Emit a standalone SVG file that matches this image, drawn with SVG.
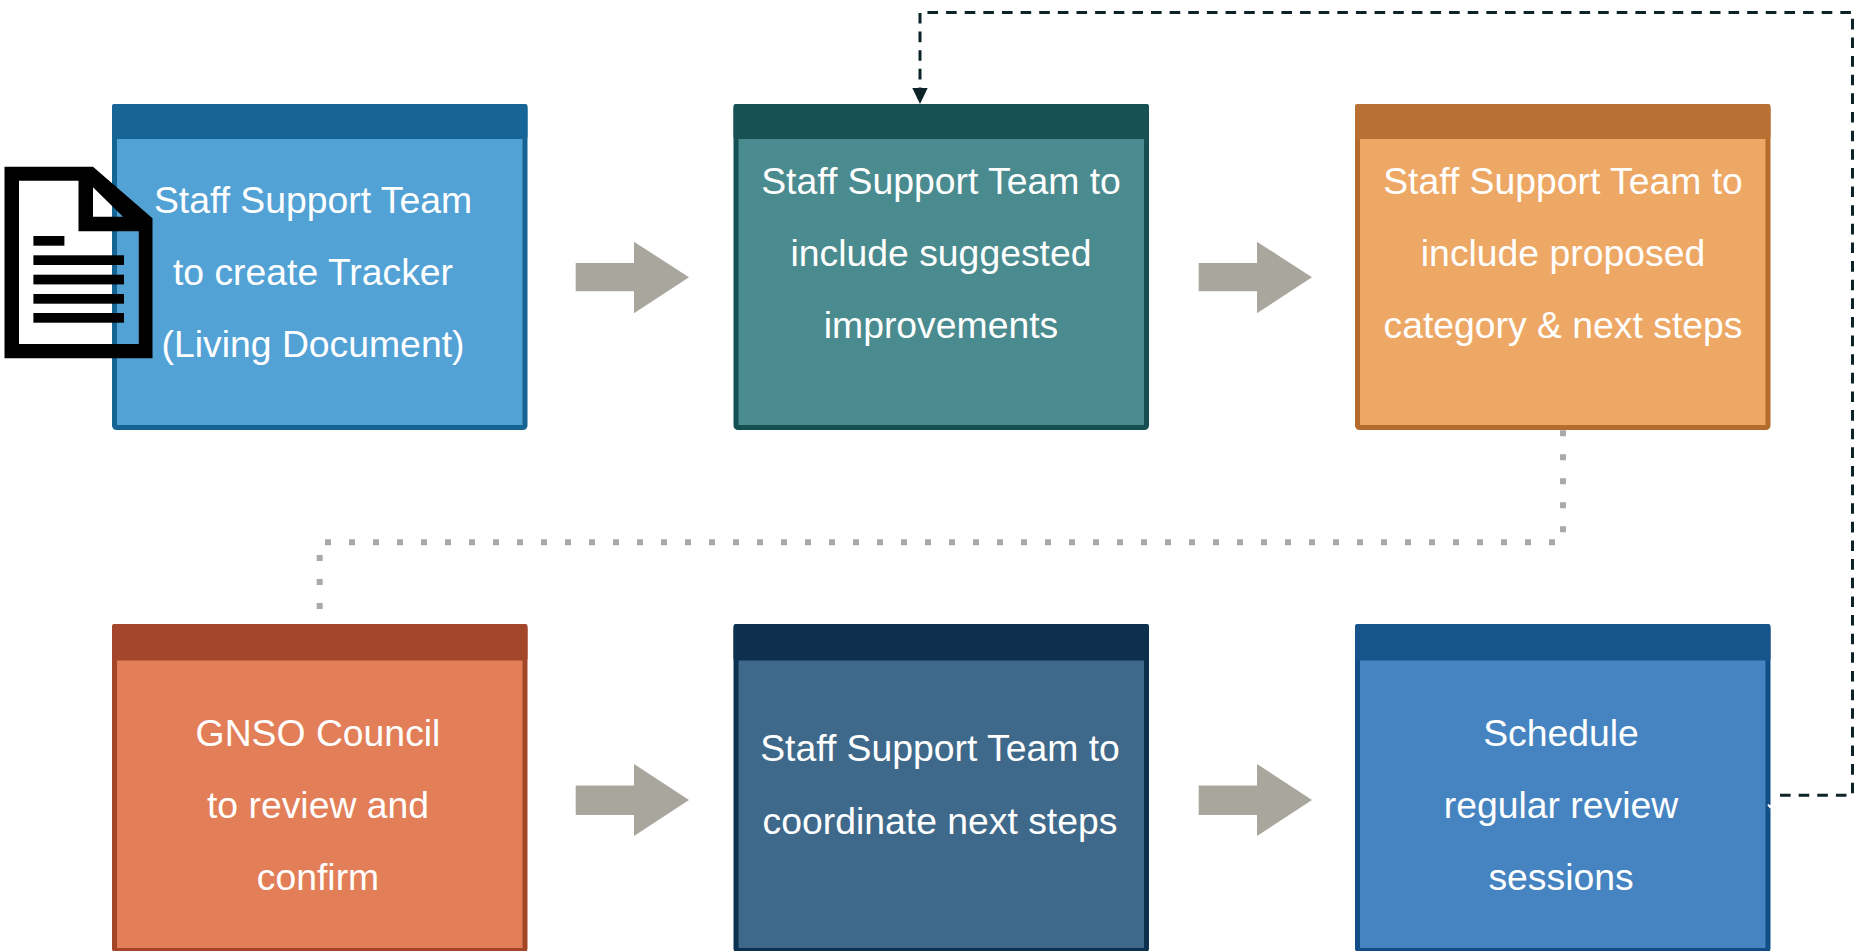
<svg xmlns="http://www.w3.org/2000/svg" width="1863" height="951" viewBox="0 0 1863 951">
<style>
text{font-family:"Liberation Sans",Arial,sans-serif;font-size:37.33px;fill:#fff;text-anchor:middle}
.b{stroke-width:5}
.r{fill:#a9a79d}
</style>
<defs>
<marker id="h" markerUnits="userSpaceOnUse" markerWidth="16" markerHeight="16" refX="16" refY="8" orient="auto"><path d="M0 0.300L16 8L0 15.700Z" fill="#0c2428"/></marker>
</defs>
<rect width="1863" height="951" fill="#fff"/>
<g id="n1"><rect class="b" x="114.500" y="106.500" width="410.500" height="321" fill="#52a2d6" stroke="#156494" rx="2"/><rect x="112" y="104" width="415.500" height="35" fill="#176496" rx="2"/>
<text x="313" y="212.500">Staff Support Team</text><text x="313" y="285">to create Tracker</text><text x="313" y="357">(Living Document)</text></g>
<g id="n2"><rect class="b" x="736" y="106.500" width="410.500" height="321" fill="#4a8b8f" stroke="#154f52" rx="2"/><rect x="733.500" y="104" width="415.500" height="35" fill="#175154" rx="2"/>
<text x="941" y="194">Staff Support Team to</text><text x="941" y="266">include suggested</text><text x="941" y="338">improvements</text></g>
<g id="n3"><rect class="b" x="1357.500" y="106.500" width="410.500" height="321" fill="#eda865" stroke="#b56b2c" rx="2"/><rect x="1355" y="104" width="415.500" height="35" fill="#b97033" rx="2"/>
<text x="1563" y="194">Staff Support Team to</text><text x="1563" y="266">include proposed</text><text x="1563" y="338">category &amp; next steps</text></g>
<g id="n4"><rect class="b" x="114.500" y="626.500" width="410.500" height="324" fill="#e27e58" stroke="#a34527" rx="2"/><rect x="112" y="624" width="415.500" height="36.500" fill="#a3462a" rx="2"/>
<text x="318" y="746">GNSO Council</text><text x="318" y="818">to review and</text><text x="318" y="890">confirm</text></g>
<g id="n5"><rect class="b" x="736" y="626.500" width="410.500" height="324" fill="#3f698b" stroke="#0c304e" rx="2"/><rect x="733.500" y="624" width="415.500" height="36.500" fill="#0d304e" rx="2"/>
<text x="940" y="761">Staff Support Team to</text><text x="940" y="834">coordinate next steps</text></g>
<g id="n6"><rect class="b" x="1357.500" y="626.500" width="410.500" height="324" fill="#4584c1" stroke="#124d85" rx="2"/><rect x="1355" y="624" width="415.500" height="36.500" fill="#17548b" rx="2"/>
<text x="1561" y="746">Schedule</text><text x="1561" y="818">regular review</text><text x="1561" y="890">sessions</text></g>
<g id="doc">
<path fill-rule="evenodd" d="M4.500 166.700H93L152.500 218.300V358.300H4.500ZM19 180.700V344H138.800V231.300H78.500V180.700ZM93 187.300V216.700H123Z" fill="#000"/>
<rect x="33.400" y="236" width="31" height="9.700"/><rect x="33.400" y="255.300" width="90.600" height="9.700"/><rect x="33.400" y="274.700" width="90.600" height="9.700"/><rect x="33.400" y="294" width="90.600" height="9.700"/><rect x="33.400" y="313" width="90.600" height="9.700"/>
</g>
<g id="connectors" fill="none">
<path class="r" d="M575.700 263H634V241.700L689 277.300L634 313.300V291.300H575.700Z"/>
<path class="r" d="M1198.700 263H1257V241.700L1312 277.300L1257 313.300V291.300H1198.700Z"/>
<path class="r" d="M575.700 785.500H634V764L689 800L634 836V815H575.700Z"/>
<path class="r" d="M1198.700 785.500H1257V764L1312 800L1257 836V815H1198.700Z"/>
<path d="M1563 430.300V542.300H319.700V624" stroke="#a9a9a9" stroke-width="6" stroke-dasharray="6 18"/>
<path d="M1780 795.300H1852.500V12.400H920V104" stroke="#0c2428" stroke-width="3" stroke-dasharray="10.600 8.030" marker-end="url(#h)"/>
<path d="M1768 804.500L1770 807L1772 804.500" stroke="#fff" stroke-width="2"/>
</g>
</svg>
